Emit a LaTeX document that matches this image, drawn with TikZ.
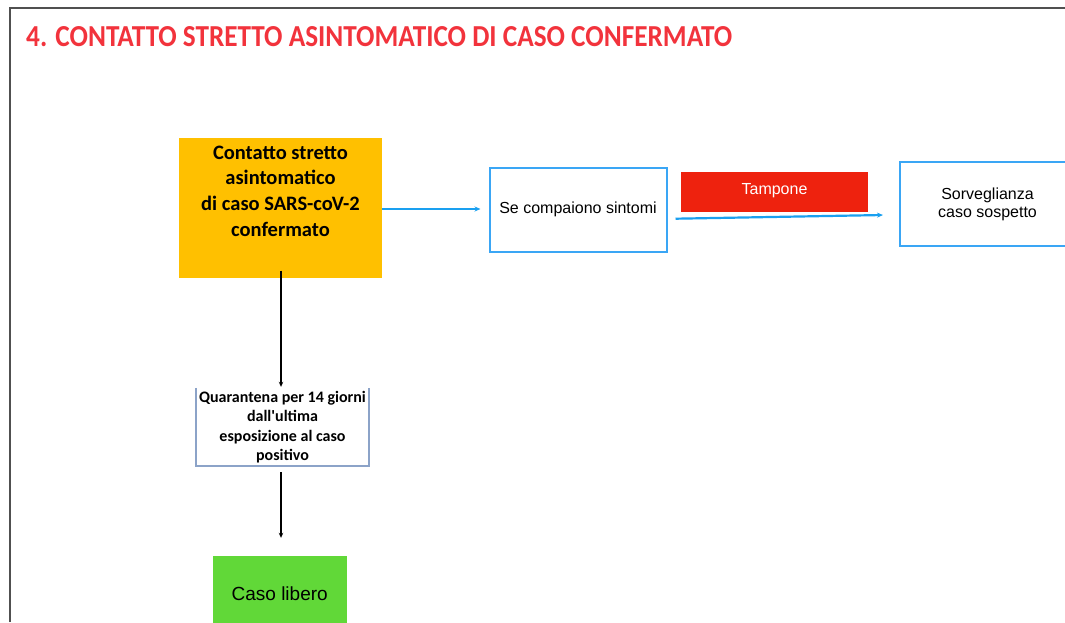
\documentclass[tikz,border=0pt]{standalone}
\usepackage{fontspec}
\setmainfont{Liberation Sans}
\newfontfamily\carlito{Carlito}
\usetikzlibrary{arrows.meta}
\definecolor{titlered}{RGB}{242,51,60}
\definecolor{orangefill}{RGB}{255,192,0}
\definecolor{redfill}{RGB}{238,34,14}
\definecolor{greenfill}{RGB}{97,216,56}
\definecolor{bluebord}{RGB}{58,166,245}
\definecolor{bluearrow}{RGB}{26,160,240}
\definecolor{framegray}{RGB}{80,80,80}
\definecolor{quarbord}{RGB}{140,163,200}
\tikzset{
  boxbase/.style={rectangle, inner sep=0pt, align=center},
  bluebox/.style={boxbase, draw=bluebord, line width=2pt, fill=white, font=\fontsize{16}{18}\selectfont},
  blueconn/.style={draw=bluearrow, line width=2.6pt, -{Stealth[length=6pt,width=5pt]}},
  blackconn/.style={draw=black, line width=2.6pt, -{Stealth[length=5pt,width=4.5pt]}},
  boldtext/.style={inner sep=0pt, align=center, text=black}
}
\begin{document}
\begin{tikzpicture}[x=1pt,y=-1pt]
\useasboundingbox (0,0) rectangle (1065,622);
\clip (0,0) rectangle (1065,622);
\fill[white] (0,0) rectangle (1065,622);
% frame
\draw[framegray, line width=2pt] (9.5,622) -- (9.5,8) -- (1066,8);
% title
\node[anchor=base west, inner sep=0pt, text=titlered] (title) at (26,46.5)
  {\resizebox{706pt}{20pt}{\carlito\bfseries 4. CONTATTO STRETTO ASINTOMATICO DI CASO CONFERMATO}};
% orange box
\node[boxbase, fill=orangefill, minimum width=203pt, minimum height=140pt] (contact) at (280.5,208.3) {};
\node[boldtext, font=\carlito\bfseries\fontsize{20.5}{25.7}\selectfont] (contacttext) at (280.5,191)
  {Contatto stretto\\asintomatico\\di caso SARS-coV-2\\confermato};
% se compaiono sintomi
\node[bluebox, minimum width=177pt, minimum height=84pt] (sintomi) at (578,209.7) {Se compaiono sintomi};
% tampone
\node[boxbase, fill=redfill, text=white, minimum width=187pt, minimum height=40pt,
  font=\fontsize{16}{18}\selectfont, text height=12pt, text depth=8pt] (tampone) at (774.5,192.3) {Tampone};
% sorveglianza
\node[bluebox, minimum width=175pt, minimum height=84pt] (sorv) at (987.5,204.3) {Sorveglianza\\caso sospetto};
% quarantena
\node[boxbase, fill=white, minimum width=173pt, minimum height=78pt,
  font=\carlito\bfseries\fontsize{16}{19.5}\selectfont] (quar) at (282.5,427)
  {Quarantena per 14 giorni\\dall'ultima\\esposizione al caso\\positivo};
\draw[quarbord, line width=1.5pt] (quar.north west) -- (quar.south west) -- (quar.south east) -- (quar.north east);
% caso libero
\node[boxbase, fill=greenfill, minimum width=134pt, minimum height=76pt,
  font=\fontsize{19}{22}\selectfont] (libero) at (279.7,594) {Caso libero};
% connectors
\draw[blueconn] ([shift={(0,0.7)}]contact.east) -- ([shift={(-8,-0.7)}]sintomi.west);
\draw[blueconn, line width=2.2pt] ([shift={(8,9)}]sintomi.east) -- ([shift={(-16,10.7)}]sorv.west);
\draw[blackconn] ([shift={(0.5,-8)}]contact.south) -- ([shift={(-1.5,-1)}]quar.north);
\draw[blackconn] ([shift={(-1.5,6)}]quar.south) -- ([shift={(1.3,-18)}]libero.north);
\end{tikzpicture}
\end{document}
